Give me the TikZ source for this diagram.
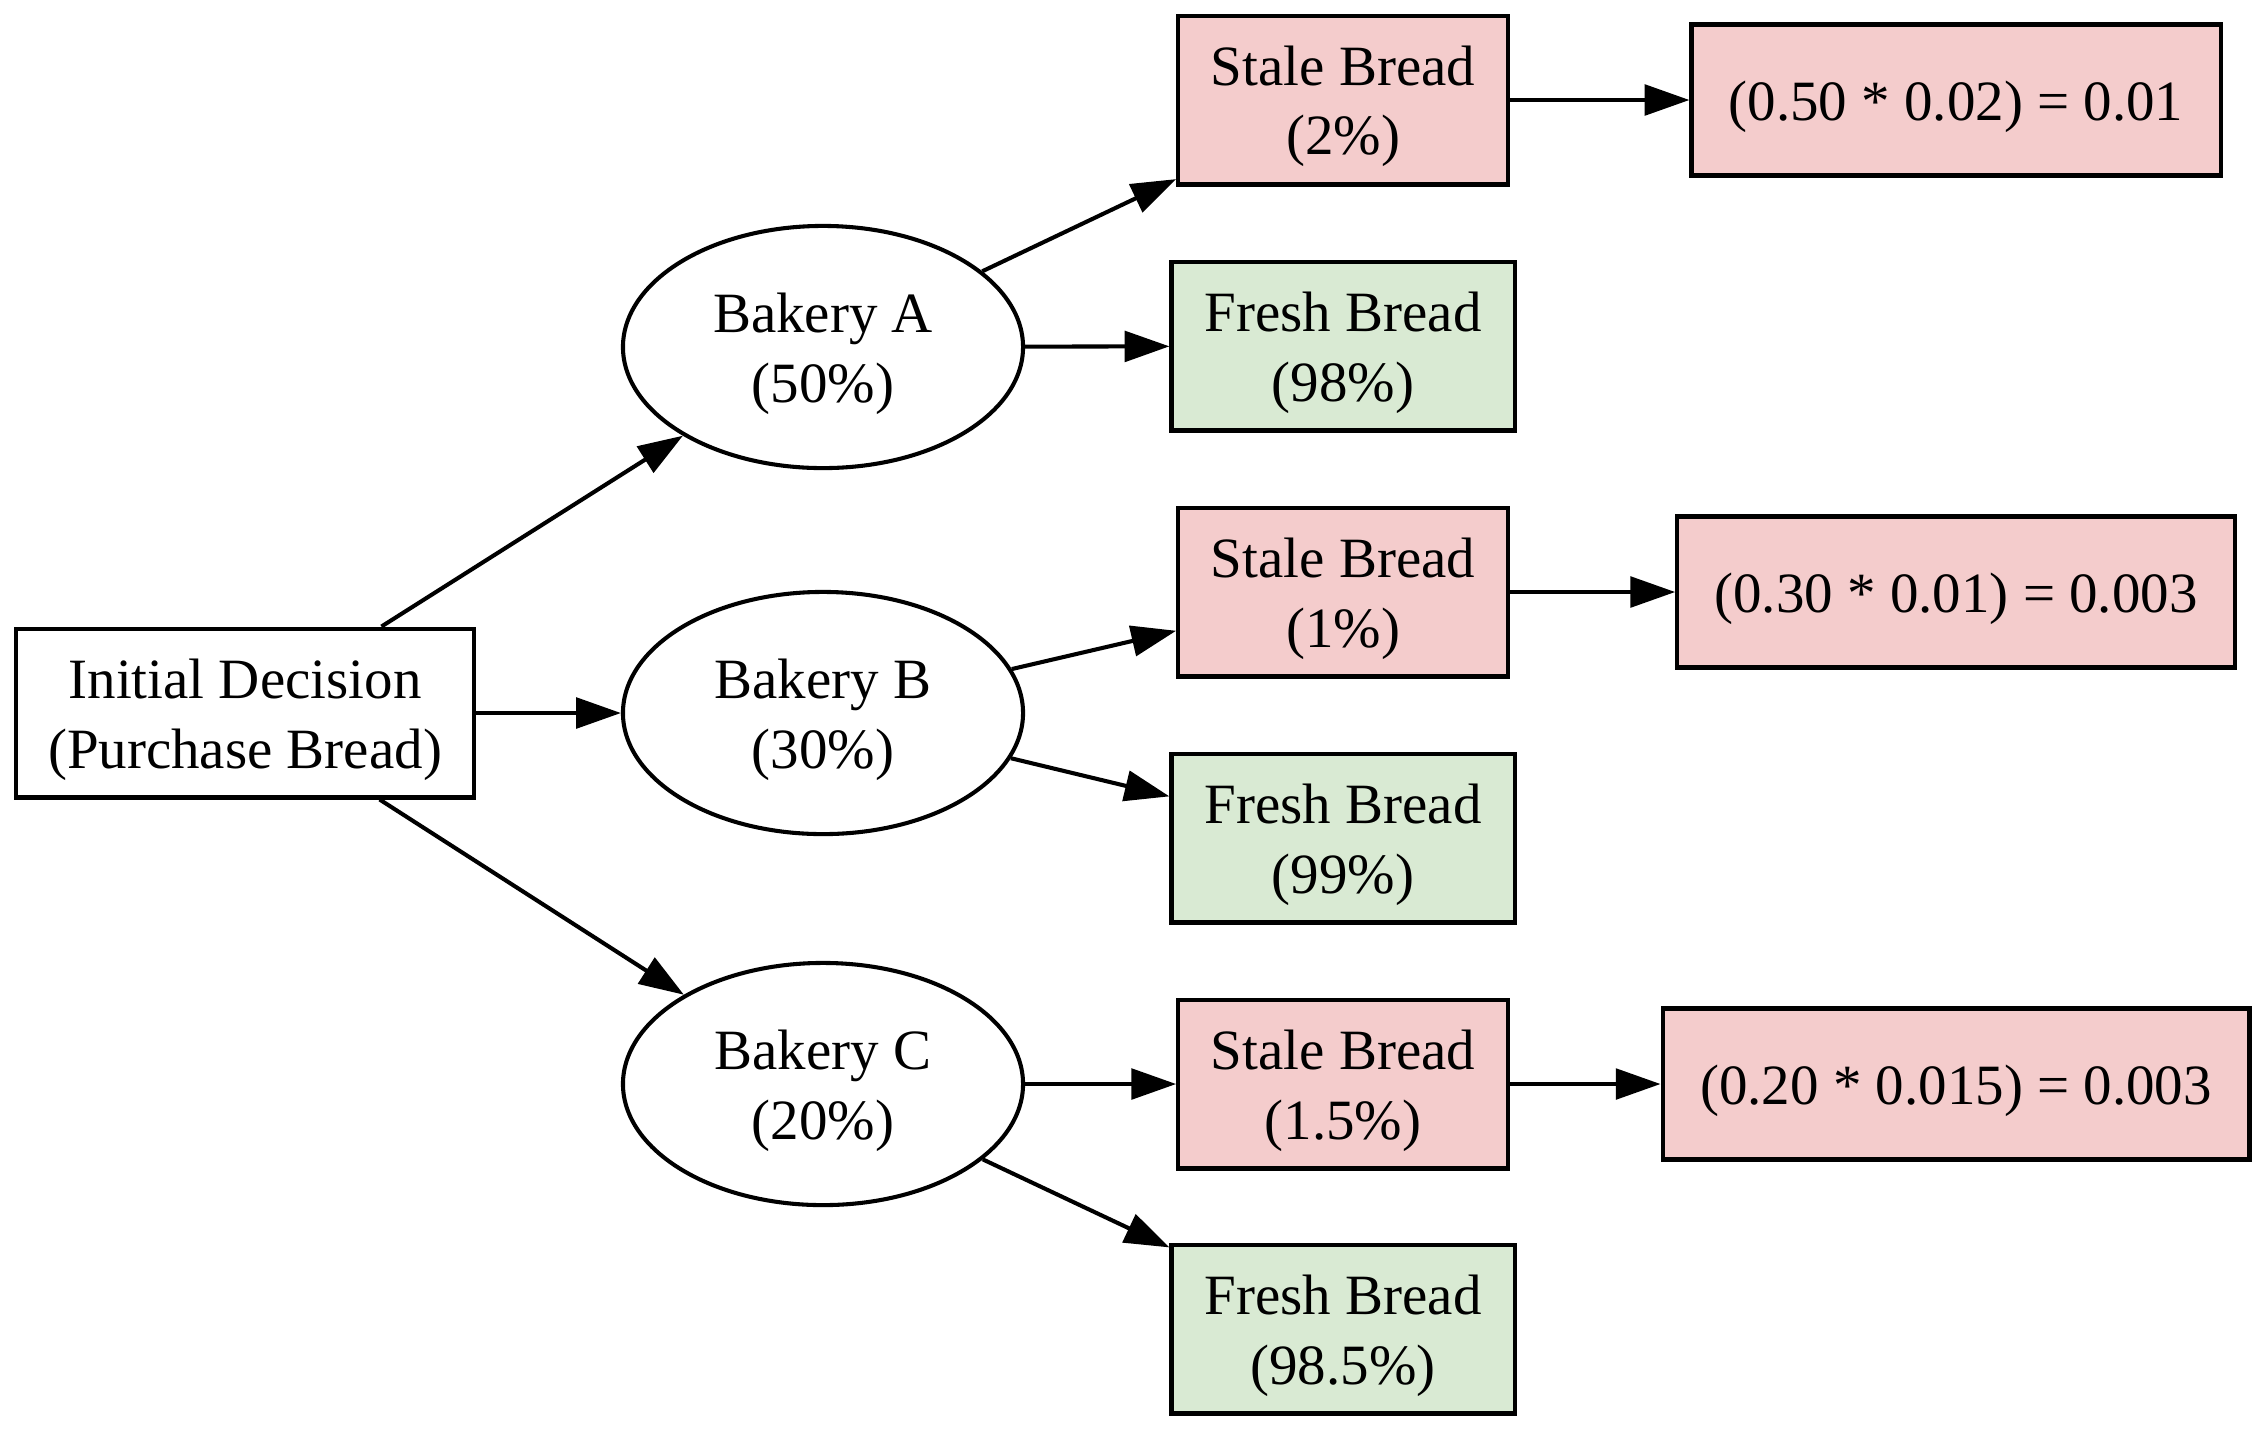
\documentclass[tikz,border=0pt]{standalone}
\usepackage{fontspec}
\setmainfont{Liberation Serif}
\usetikzlibrary{arrows.meta,shapes.geometric}
\definecolor{ink}{HTML}{000000}
\definecolor{stalefill}{HTML}{F4CCCC}
\definecolor{freshfill}{HTML}{D9EAD3}
\newcommand{\lift}{\rule{0pt}{13pt}}
\tikzset{
  txt/.style={align=center,font=\fontsize{14}{17}\selectfont},
  box/.style={txt,draw=ink,line width=1pt,fill=white,inner sep=0pt,minimum height=41.5pt},
  stalebox/.style={box,fill=stalefill,minimum width=81pt},
  freshbox/.style={box,fill=freshfill,minimum width=84.3pt},
  resbox/.style={box,fill=stalefill,minimum height=37.1pt},
  bakery/.style={txt,ellipse,draw=ink,line width=1pt,fill=white,inner sep=0pt,minimum width=98.3pt,minimum height=59.5pt},
  ar/.style={-{Triangle[length=11pt,width=7.5pt]},draw=ink,line width=1pt},
}
\begin{document}
\begin{tikzpicture}[x=0.2457pt,y=-0.2457pt]
  \useasboundingbox (0,0) rectangle (2267,1433);
  % root
  \node[box,minimum width=112.5pt] (init) at (245,713) {\lift Initial Decision\\(Purchase Bread)};
  % bakeries
  \node[bakery] (bakA) at (823,347) {\lift Bakery A\\(50\%)};
  \node[bakery] (bakB) at (823,713) {\lift Bakery B\\(30\%)};
  \node[bakery] (bakC) at (823,1084) {\lift Bakery C\\(20\%)};
  % outcomes
  \node[stalebox] (staleA) at (1343,100) {\lift Stale Bread\\(2\%)};
  \node[freshbox] (freshA) at (1343,346) {\lift Fresh Bread\\(98\%)};
  \node[stalebox] (staleB) at (1343,592) {\lift Stale Bread\\(1\%)};
  \node[freshbox] (freshB) at (1343,838) {\lift Fresh Bread\\(99\%)};
  \node[stalebox] (staleC) at (1343,1084) {\lift Stale Bread\\(1.5\%)};
  \node[freshbox] (freshC) at (1343,1329) {\lift Fresh Bread\\(98.5\%)};
  % joint probabilities
  \node[resbox,minimum width=130pt] (resA) at (1956,100) {\lift(0.50 * 0.02) = 0.01};
  \node[resbox,minimum width=137pt] (resB) at (1956,592) {\lift(0.30 * 0.01) = 0.003};
  \node[resbox,minimum width=144.2pt] (resC) at (1956,1084) {\lift(0.20 * 0.015) = 0.003};
  % edges
  \draw[ar] (init) -- (bakA);
  \draw[ar] (init) -- (bakB);
  \draw[ar] (init) -- (bakC);
  \draw[ar] (bakA) -- (staleA);
  \draw[ar] (bakA) -- (freshA);
  \draw[ar] (bakB) -- (staleB);
  \draw[ar] (bakB) -- (freshB);
  \draw[ar] (bakC) -- (staleC);
  \draw[ar] (bakC) -- (freshC);
  \draw[ar] (staleA) -- (resA);
  \draw[ar] (staleB) -- (resB);
  \draw[ar] (staleC) -- (resC);
\end{tikzpicture}
\end{document}
